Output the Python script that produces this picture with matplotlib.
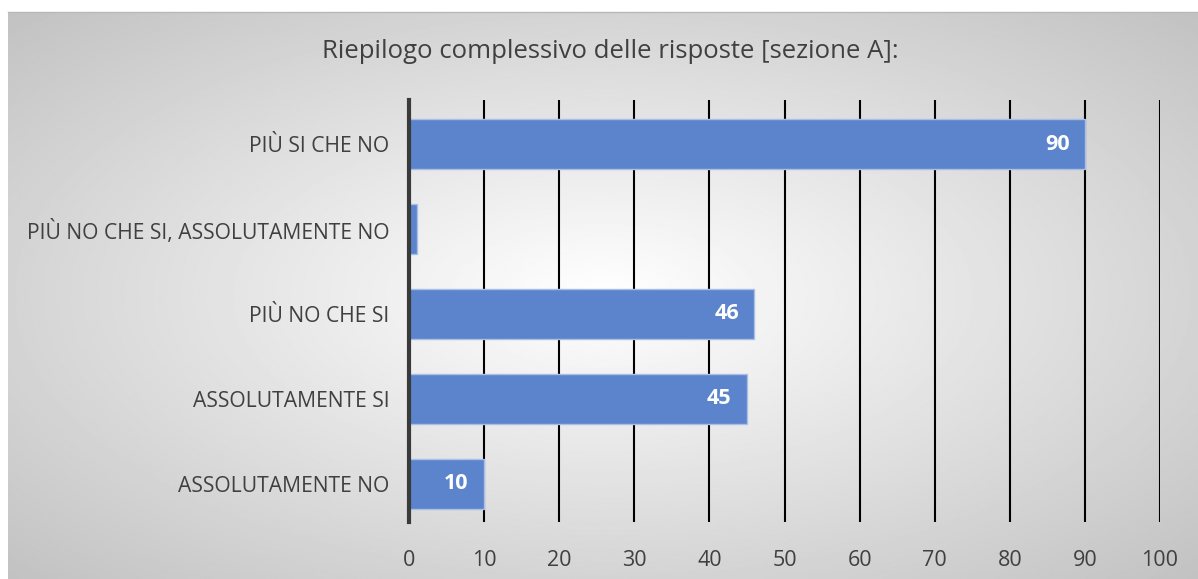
import numpy as np
import matplotlib.pyplot as plt

categories = ["ASSOLUTAMENTE NO", "ASSOLUTAMENTE SI", "PIÙ NO CHE SI",
              "PIÙ NO CHE SI, ASSOLUTAMENTE NO", "PIÙ SI CHE NO"]
values = [10, 45, 46, 1, 90]
title = "Riepilogo complessivo delle risposte [sezione A]:"

plt.rcParams['font.family'] = ['Open Sans', 'DejaVu Sans']

W, H = 1198, 579
fig = plt.figure(figsize=(W / 100, H / 100), dpi=100)

# radial gradient background for the chart frame
bg = fig.add_axes([8 / W, 0, 1 - 8 / W, 1 - 12 / H])
yy, xx = np.mgrid[0:1:300j, 0:1:600j]
r = np.sqrt(((xx - 0.5) / 0.5) ** 2 + ((yy - 0.5) / 0.5) ** 2) / np.sqrt(2)
shade = 1.0 - 0.24 * r
bg.imshow(shade, cmap='gray', vmin=0, vmax=1, aspect='auto', extent=[0, 1, 0, 1])
bg.axis('off')
fig.add_artist(plt.Line2D([8 / W, 1], [1 - 12 / H, 1 - 12 / H], color='#b8b8b8', lw=1))

ax = fig.add_axes([409 / W, 1 - 522 / H, (1160 - 409) / W, (522 - 100) / H])
ax.patch.set_alpha(0)
ypos = np.arange(len(categories))
bars = ax.barh(ypos, values, height=0.59, color='#5b84cc', edgecolor='#a9bfe6', linewidth=1, zorder=3)
for b, v in zip(bars, values):
    if v >= 5:
        ax.text(v - 3.7, b.get_y() + b.get_height() / 2, str(v), color='white',
                fontsize=15.5, fontweight='bold', ha='center', va='center', zorder=4)

ax.set_xlim(0, 100)
ax.set_ylim(-0.45, 4.52)
ax.set_xticks(np.arange(0, 101, 10))
ax.set_yticks(ypos)
ax.set_yticklabels(categories)
ax.grid(axis='x', color='black', linewidth=1.5, zorder=1)
for s in ['top', 'right', 'bottom']:
    ax.spines[s].set_visible(False)
ax.spines['left'].set_color('#3a3a3a')
ax.spines['left'].set_linewidth(3)
ax.spines['left'].set_zorder(5)
ax.tick_params(axis='both', length=0, labelcolor='#404040')
ax.tick_params(axis='y', labelsize=15.2, pad=14)
ax.tick_params(axis='x', labelsize=15.5, pad=20)

fig.text(610 / W, 1 - 52 / H, title, fontsize=18.5, color='#404040', ha='center', va='center')

fig.savefig('out.png', dpi=100)
